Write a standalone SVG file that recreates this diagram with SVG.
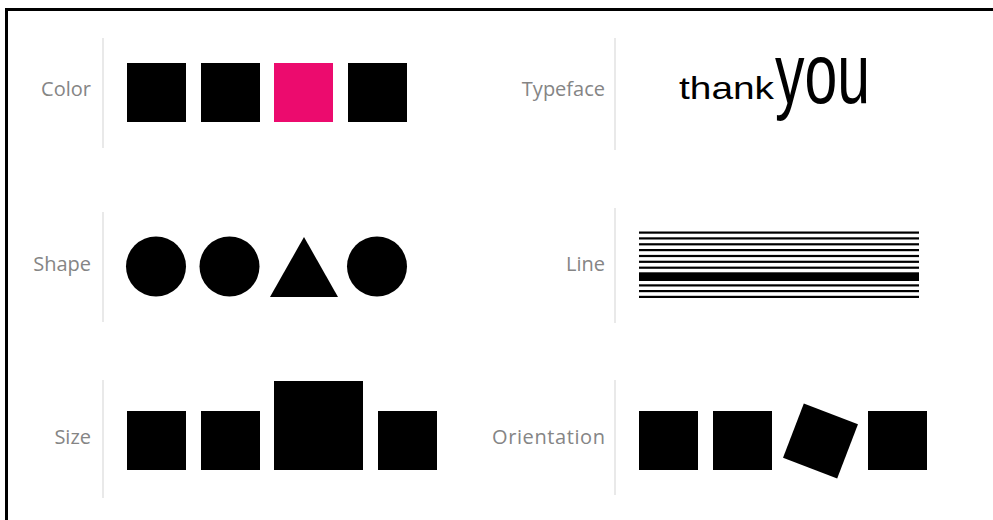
<svg xmlns="http://www.w3.org/2000/svg" width="993" height="520" viewBox="0 0 993 520">
<style>
.lbl{font-family:"Open Sans","Liberation Sans",sans-serif;font-size:20px;fill:#858585;text-anchor:end}
.div{stroke:#e2e2e2;stroke-width:1.5}
.blk{fill:#000}
.ln{fill:#000}
</style>
<rect x="0" y="0" width="993" height="520" fill="#fff"/>
<rect x="6.5" y="9.5" width="1000" height="530" fill="none" stroke="#000" stroke-width="3"/>
<g id="dividers">
<line class="div" x1="103" y1="38" x2="103" y2="148"/>
<line class="div" x1="103" y1="212" x2="103" y2="322"/>
<line class="div" x1="103" y1="380" x2="103" y2="498"/>
<line class="div" x1="615" y1="38" x2="615" y2="150"/>
<line class="div" x1="615" y1="208" x2="615" y2="323"/>
<line class="div" x1="615" y1="380" x2="615" y2="495"/>
</g>
<g id="color">
<text class="lbl" x="91" y="96">Color</text>
<rect class="blk" x="127" y="63" width="59" height="59"/>
<rect class="blk" x="201" y="63" width="59" height="59"/>
<rect x="274" y="63" width="59" height="59" fill="#ec0b6e"/>
<rect class="blk" x="348" y="63" width="59" height="59"/>
</g>
<g id="shape">
<text class="lbl" x="91" y="271">Shape</text>
<circle class="blk" cx="156" cy="266.5" r="30"/>
<circle class="blk" cx="229.5" cy="266.5" r="30"/>
<polygon class="blk" points="304,237 338,297 270,297"/>
<circle class="blk" cx="377" cy="266.5" r="30"/>
</g>
<g id="size">
<text class="lbl" x="91" y="444">Size</text>
<rect class="blk" x="127" y="411" width="59" height="59"/>
<rect class="blk" x="201" y="411" width="59" height="59"/>
<rect class="blk" x="274" y="381" width="89" height="89"/>
<rect class="blk" x="378" y="411" width="59" height="59"/>
</g>
<g id="typeface">
<text class="lbl" x="605" y="96">Typeface</text>
<text x="679" y="99" font-family="'Liberation Sans',sans-serif" font-size="32" textLength="95" lengthAdjust="spacingAndGlyphs" fill="#000">thank</text>
<text x="775" y="103" font-family="'Liberation Sans',sans-serif" font-size="86" textLength="95" lengthAdjust="spacingAndGlyphs" fill="#000">you</text>
</g>
<g id="line">
<text class="lbl" x="605" y="271">Line</text>
<rect class="ln" x="639" y="231.5" width="280" height="2.2"/>
<rect class="ln" x="639" y="237.3" width="280" height="2.2"/>
<rect class="ln" x="639" y="243.2" width="280" height="2.2"/>
<rect class="ln" x="639" y="249" width="280" height="2.2"/>
<rect class="ln" x="639" y="254.9" width="280" height="2.2"/>
<rect class="ln" x="639" y="260.7" width="280" height="2.2"/>
<rect class="ln" x="639" y="266.6" width="280" height="2.2"/>
<rect class="ln" x="639" y="272.3" width="280" height="8.7"/>
<rect class="ln" x="639" y="284.3" width="280" height="2.2"/>
<rect class="ln" x="639" y="290" width="280" height="2.2"/>
<rect class="ln" x="639" y="295.8" width="280" height="2.2"/>
</g>
<g id="orientation">
<text class="lbl" x="605" y="444" textLength="113">Orientation</text>
<rect class="blk" x="639" y="411" width="59" height="59"/>
<rect class="blk" x="713" y="411" width="59" height="59"/>
<rect class="blk" x="-29" y="-29" width="58" height="58" transform="translate(820.5 441) rotate(21)"/>
<rect class="blk" x="868" y="411" width="59" height="59"/>
</g>
</svg>
